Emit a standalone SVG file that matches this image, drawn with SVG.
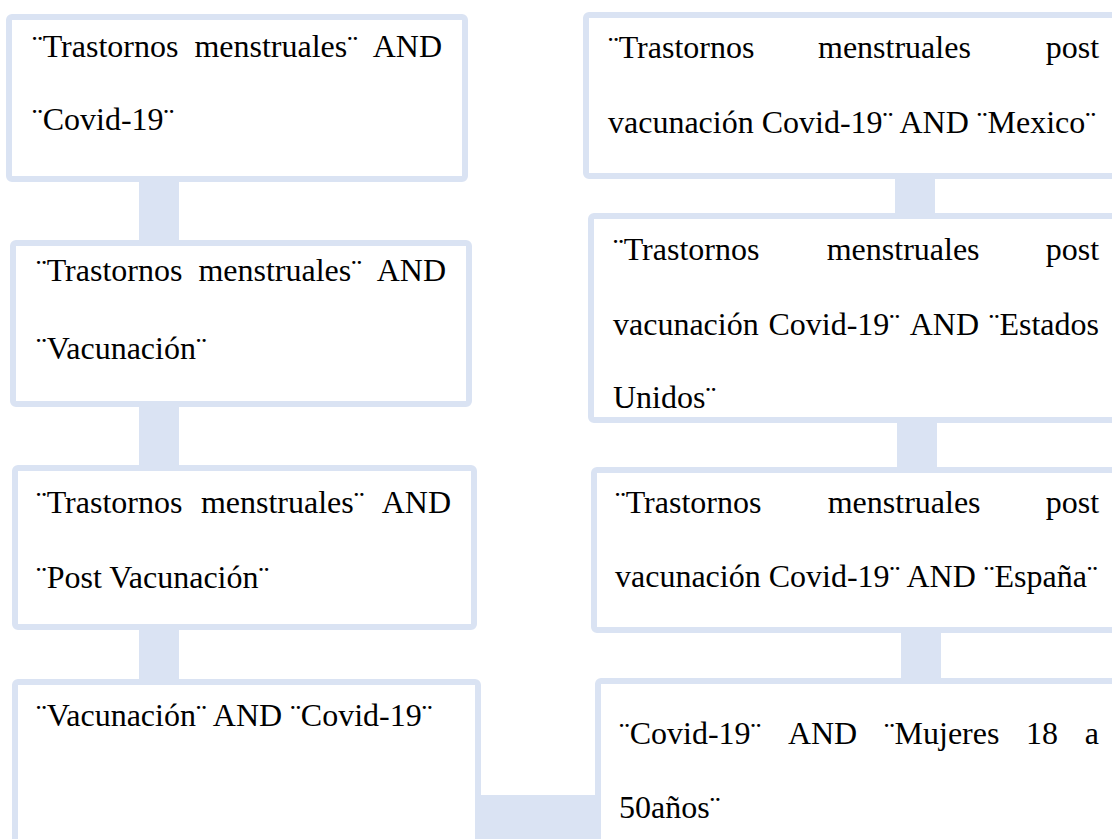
<svg xmlns="http://www.w3.org/2000/svg" width="1112" height="839" viewBox="0 0 1112 839">
<style>
.box{fill:#ffffff;stroke:#DAE3F3;stroke-width:6}
.con{fill:#DAE3F3}
text{font-family:"Liberation Serif","Times New Roman",serif;font-size:32px;fill:#000000}
</style>
<rect width="1112" height="839" fill="#ffffff"/>
<g id="connectors">
<rect class="con" x="139" y="179" width="40" height="64"/>
<rect class="con" x="139" y="404" width="40" height="64"/>
<rect class="con" x="139" y="627" width="40" height="55"/>
<rect class="con" x="478" y="795" width="120" height="44"/>
<rect class="con" x="895" y="176" width="40" height="40"/>
<rect class="con" x="897" y="420" width="40" height="50"/>
<rect class="con" x="901" y="630" width="40" height="51"/>
</g>
<g id="n1">
<rect class="box" x="9" y="17" width="456" height="162" rx="3"/>
<text y="57"><tspan x="32">¨Trastornos</tspan><tspan x="194.4">menstruales¨</tspan><tspan x="372.7">AND</tspan></text>
<text x="32" y="130">¨Covid-19¨</text>
</g>
<g id="n2">
<rect class="box" x="13" y="243" width="456" height="161" rx="3"/>
<text y="281"><tspan x="36">¨Trastornos</tspan><tspan x="198.4">menstruales¨</tspan><tspan x="376.7">AND</tspan></text>
<text x="36" y="359">¨Vacunación¨</text>
</g>
<g id="n3">
<rect class="box" x="15" y="468" width="459" height="159" rx="3"/>
<text y="513"><tspan x="36">¨Trastornos</tspan><tspan x="200.9">menstruales¨</tspan><tspan x="381.7">AND</tspan></text>
<text x="36" y="588">¨Post Vacunación¨</text>
</g>
<g id="n4">
<rect class="box" x="15" y="682" width="463" height="170" rx="3"/>
<text x="36" y="726">¨Vacunación¨ AND ¨Covid-19¨</text>
</g>
<g id="n5">
<rect class="box" x="586" y="15" width="540" height="161" rx="3"/>
<text y="58"><tspan x="608">¨Trastornos</tspan><tspan x="818">menstruales</tspan><tspan x="1045.7">post</tspan></text>
<text x="608" y="133">vacunación Covid-19¨ AND ¨Mexico¨</text>
</g>
<g id="n6">
<rect class="box" x="591" y="216" width="540" height="204" rx="3"/>
<text y="260"><tspan x="613">¨Trastornos</tspan><tspan x="826.7">menstruales</tspan><tspan x="1045.7">post</tspan></text>
<text y="335"><tspan x="613">vacunación</tspan><tspan x="768.4">Covid-19¨</tspan><tspan x="909.7">AND</tspan><tspan x="988.8">¨Estados</tspan></text>
<text x="613" y="408">Unidos¨</text>
</g>
<g id="n7">
<rect class="box" x="594" y="470" width="540" height="160" rx="3"/>
<text y="513"><tspan x="615">¨Trastornos</tspan><tspan x="827.7">menstruales</tspan><tspan x="1045.7">post</tspan></text>
<text x="615" y="587">vacunación Covid-19¨ AND ¨España¨</text>
</g>
<g id="n8">
<rect class="box" x="598" y="681" width="540" height="170" rx="3"/>
<text y="744"><tspan x="619">¨Covid-19¨</tspan><tspan x="787.9">AND</tspan><tspan x="883.9">¨Mujeres</tspan><tspan x="1026.1">18</tspan><tspan x="1084.8">a</tspan></text>
<text x="619" y="818">50años¨</text>
</g>
</svg>
